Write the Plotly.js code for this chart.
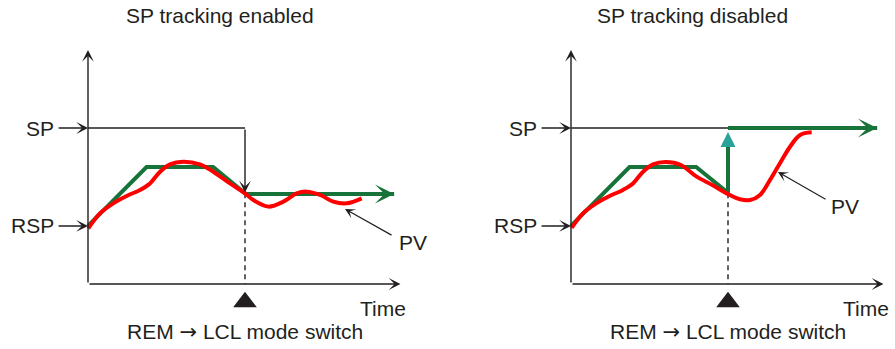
<!DOCTYPE html>
<html>
<head>
<meta charset="utf-8">
<script src="https://cdn.plot.ly/plotly-3.0.1.min.js"></script>
<style>
  html, body { margin: 0; padding: 0; background: #fff; }
  #chart { width: 895px; height: 349px; }
</style>
</head>
<body>
<div id="chart"></div>
<script>
// --- chart values (time units, % of span) ---
const panelTitles = ['SP tracking enabled', 'SP tracking disabled'];
const switchLabel = 'REM <span style="font-family:DejaVu Sans">\u2192</span> LCL mode switch';
const levelLabels = ['SP', 'RSP'];
const timeLabel = 'Time';
const pvLabel = 'PV';

const tSwitch = 10;       // REM -> LCL switch time
const spLevel = 100;      // local SP
const rspLevel = 37.2;    // remote SP at start
const tAxisEnd = 19.9;
const vAxisEnd = 150;

// remote SP profile (green) before the switch
const rspT = [0, 3.73, 7.97, 10];
const rspV = [37.2, 75, 75, 58.1];
// SP after switch, tracking enabled (left) / disabled (right)
const spAfterLeftT = [10, 19.5];
const spAfterLeftV = [57.7, 57.7];
const spAfterRightT = [10, 19.5];
const spAfterRightV = [100, 100];

// PV (red)
const pvLeftT = [0.02, 0.76, 1.61, 2.46, 3.31, 3.95, 4.59, 5.22, 6.07, 7.13, 7.98, 9.04, 10.0,
                 10.53, 11.48, 12.44, 13.29, 13.93, 14.78, 15.62, 16.48, 17.43];
const pvLeftV = [35.7, 45.3, 51.7, 56.4, 60.3, 64.5, 72.0, 76.7, 78.4, 76.7, 72.0, 64.5, 58.1,
                 53.8, 49.6, 52.8, 58.1, 59.2, 57.1, 52.8, 51.7, 54.9];
const pvRightT = [0.04, 0.76, 1.61, 2.46, 3.31, 3.95, 4.59, 5.22, 6.05, 7.0, 8.0, 9.0, 9.92,
                  10.76, 11.4, 12.04, 12.68, 13.31, 13.95, 14.59, 15.33];
const pvRightV = [35.9, 45.3, 51.7, 56.4, 60.3, 64.5, 72.0, 76.7, 78.2, 76.3, 68.8, 63.5, 58.1,
                  54.3, 53.8, 57.1, 66.7, 77.4, 88.0, 95.5, 97.2];

const GREEN = '#17733a';
const RED = '#ff0000';
const TEAL = '#2aa39a';
const INK = '#231f20';
const FONT = { family: 'Liberation Sans, Arial, sans-serif', size: 21, color: INK };

let traces = [];
let annotations = [];

function arrow(xr, yr, x0, y0, x1, y1, opts) {
    annotations.push(Object.assign({
        xref: xr, yref: yr, axref: xr, ayref: yr,
        x: x1, y: y1, ax: x0, ay: y0, text: '',
        showarrow: true, arrowhead: 3, arrowsize: 1.4, arrowwidth: 1.4,
        arrowcolor: INK, standoff: 0
    }, opts || {}));
}

function label(xr, yr, x, y, text, xanchor) {
    annotations.push({
        xref: xr, yref: yr, x: x, y: y, text: text, showarrow: false,
        xanchor: xanchor || 'center', yanchor: 'middle', font: FONT
    });
}

function buildPanel(i, pvT, pvV, pvTail, pvHead, pvText) {
    const xr = i === 0 ? 'x' : 'x2';
    const yr = i === 0 ? 'y' : 'y2';
    const line = (x, y, color, width, dash) => traces.push({
        x: x, y: y, xaxis: xr, yaxis: yr, mode: 'lines', hoverinfo: 'skip',
        line: { color: color, width: width, dash: dash || 'solid', shape: 'linear' }
    });

    // axes with arrow heads
    arrow(xr, yr, 0, 0, 0, vAxisEnd);
    arrow(xr, yr, 0, 0, tAxisEnd, 0);

    // SP / RSP pointers
    arrow(xr, yr, -1.97, spLevel, 0, spLevel);
    arrow(xr, yr, -1.97, rspLevel, 0, rspLevel);
    label(xr, yr, -2.05, spLevel, levelLabels[0], 'right');
    label(xr, yr, -2.05, rspLevel, levelLabels[1], 'right');

    // thin SP line up to the switch
    line([0, tSwitch], [spLevel, spLevel], INK, 1.4);

    // dashed switch marker
    line([tSwitch, tSwitch], [rspV[rspV.length - 1], 0], INK, 1.4, '5px,4px');
    traces.push({
        x: [tSwitch], y: [-11.6], xaxis: xr, yaxis: yr, mode: 'markers', hoverinfo: 'skip',
        marker: { symbol: 'triangle-up', size: 20.5, color: INK }
    });

    // green SP profile
    if (i === 0) {
        arrow(xr, yr, tSwitch, spLevel, tSwitch, rspV[rspV.length - 1] + 0.5);
        line(rspT, rspV, GREEN, 4);
        line(spAfterLeftT, spAfterLeftV, GREEN, 4);
        arrow(xr, yr, 17.5, spAfterLeftV[1], spAfterLeftT[1], spAfterLeftV[1],
              { arrowcolor: GREEN, arrowwidth: 4, arrowsize: 0.8 });
    } else {
        line(rspT.concat([tSwitch]), rspV.slice(0, 3).concat([58.5, 90]), GREEN, 4);
        arrow(xr, yr, tSwitch, 89, tSwitch, 97.5,
              { arrowcolor: TEAL, arrowwidth: 4, arrowhead: 2, arrowsize: 0.75 });
        line(spAfterRightT, spAfterRightV, GREEN, 4);
        arrow(xr, yr, 17.5, spAfterRightV[1], spAfterRightT[1], spAfterRightV[1],
              { arrowcolor: GREEN, arrowwidth: 4, arrowsize: 0.8 });
    }

    // PV curve
    traces.push({
        x: pvT, y: pvV, xaxis: xr, yaxis: yr, mode: 'lines', hoverinfo: 'skip',
        line: { color: RED, width: 4, shape: 'spline', smoothing: 1 }
    });
    arrow(xr, yr, pvTail[0], pvTail[1], pvHead[0], pvHead[1], { arrowwidth: 1.2 });
    label(xr, yr, pvText[0], pvText[1], pvLabel);

    // texts
    label(xr, yr, i === 0 ? 8.41 : 7.77, 171.8, panelTitles[i]);
    label(xr, yr, 18.8, -15.4, timeLabel);
    label(xr, yr, tSwitch, -30.8, switchLabel);
}

buildPanel(0, pvLeftT, pvLeftV, [19.43, 30.8], [16.37, 48.1], [20.7, 26.3]);
buildPanel(1, pvRightT, pvRightV, [16.31, 53.8], [13.18, 71.8], [17.45, 50]);

const hidden = { visible: false, fixedrange: true };
const yRange = [-41.67, 182.05];

const layout = {
    width: 895, height: 349,
    margin: { l: 0, r: 0, t: 0, b: 0 },
    showlegend: false,
    paper_bgcolor: '#fff', plot_bgcolor: '#fff',
    xaxis: Object.assign({ domain: [0, 0.5], range: [-5.605, 22.898] }, hidden),
    xaxis2: Object.assign({ domain: [0.5, 1], range: [-7.866, 20.637] }, hidden),
    yaxis: Object.assign({ domain: [0, 1], range: yRange, anchor: 'x' }, hidden),
    yaxis2: Object.assign({ domain: [0, 1], range: yRange, anchor: 'x2' }, hidden),
    annotations: annotations
};

Plotly.newPlot('chart', traces, layout, { displayModeBar: false, staticPlot: true });
</script>
</body>
</html>
